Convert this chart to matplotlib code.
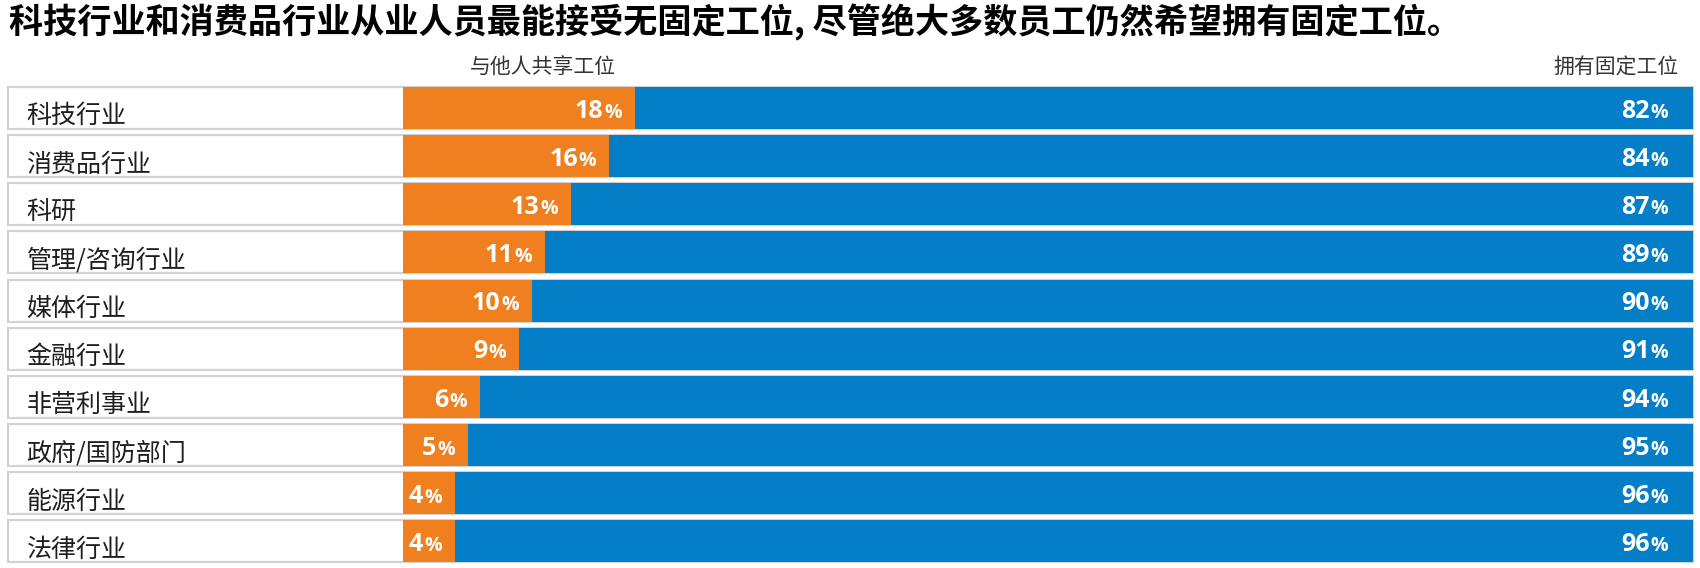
import numpy as np
import matplotlib
matplotlib.use('Agg')
import matplotlib.pyplot as plt
from matplotlib.transforms import offset_copy

# data
categories = ['科技行业', '消费品行业', '科研', '管理/咨询行业', '媒体行业',
              '金融行业', '非营利事业', '政府/国防部门', '能源行业', '法律行业']
shared = [18, 16, 13, 11, 10, 9, 6, 5, 4, 4]
fixed = [82, 84, 87, 89, 90, 91, 94, 95, 96, 96]
title = '科技行业和消费品行业从业人员最能接受无固定工位, 尽管绝大多数员工仍然希望拥有固定工位。'
head_shared = '与他人共享工位'
head_fixed = '拥有固定工位'

orange = '#EF7F1F'
blue = '#037EC7'
border = '#d3d3d3'
cjk = ['Noto Sans CJK SC', 'DejaVu Sans']
num_font = ['Open Sans', 'DejaVu Sans']

W, H = 1700, 568
fig = plt.figure(figsize=(W / 100, H / 100), dpi=100)
renderer = fig.canvas.get_renderer()

px = 12.9                      # pixels per percent
span = (403 - 8) / px          # label area, in percent units
pitch = 48.16
top = 108 - pitch / 2
bottom = top + pitch * len(categories)
ax = fig.add_axes([8 / W, 1 - bottom / H, (1693 - 8) / W, (bottom - top) / H])
ax.set_xlim(-span, 100)
ax.set_ylim(len(categories) - 0.5, -0.5)
ax.axis('off')

y = np.arange(len(categories))
bh = 42 / pitch
ax.barh(y, 100 + span, left=-span, height=bh, color='white',
        edgecolor=border, linewidth=1.6, clip_on=False)
ax.barh(y, shared, height=bh, color=orange)
ax.barh(y, fixed, left=shared, height=bh, color=blue)

for yi, cat in zip(y, categories):
    ax.text(-span + 18.5 / px, yi + 0.318, cat, va='baseline', ha='left',
            fontsize=18, color='#1e1e1e', family=cjk)

num_kw = dict(fontsize=18, fontweight='bold', color='white', family=num_font, va='baseline')
pct_kw = dict(fontsize=14, fontweight='bold', color='white', family=num_font, va='baseline')


def width(s, **kw):
    t = fig.text(0, 0, s, **kw)
    w = t.get_window_extent(renderer).width
    t.remove()
    return w


w_pct = width('%', **pct_kw)


def pct_label(x, yi, val):
    ax.text(x, yi + 0.2, '%', ha='right', **pct_kw)
    tr = offset_copy(ax.transData, fig=fig, x=-w_pct - 1, y=0, units='dots')
    ax.text(x, yi + 0.2, str(val), ha='right', transform=tr, **num_kw)


for yi, s, f in zip(y, shared, fixed):
    w = width(str(s), **num_kw) + w_pct + 1
    right = max(s - 13 / px, (6 + w) / px)
    pct_label(right, yi, s)
    pct_label(100 - 25 / px, yi, f)

fig.text(9 / W, 1 - 33.7 / H, title, ha='left', va='baseline', fontsize=24.6,
         fontweight='bold', color='black', family=cjk)
fig.text(470 / W, 1 - 73.5 / H, head_shared, ha='left', va='baseline',
         fontsize=15, color='#333333', family=cjk)
fig.text(1679 / W, 1 - 73.5 / H, head_fixed, ha='right', va='baseline',
         fontsize=15, color='#333333', family=cjk)

fig.savefig('out.png', dpi=100)
